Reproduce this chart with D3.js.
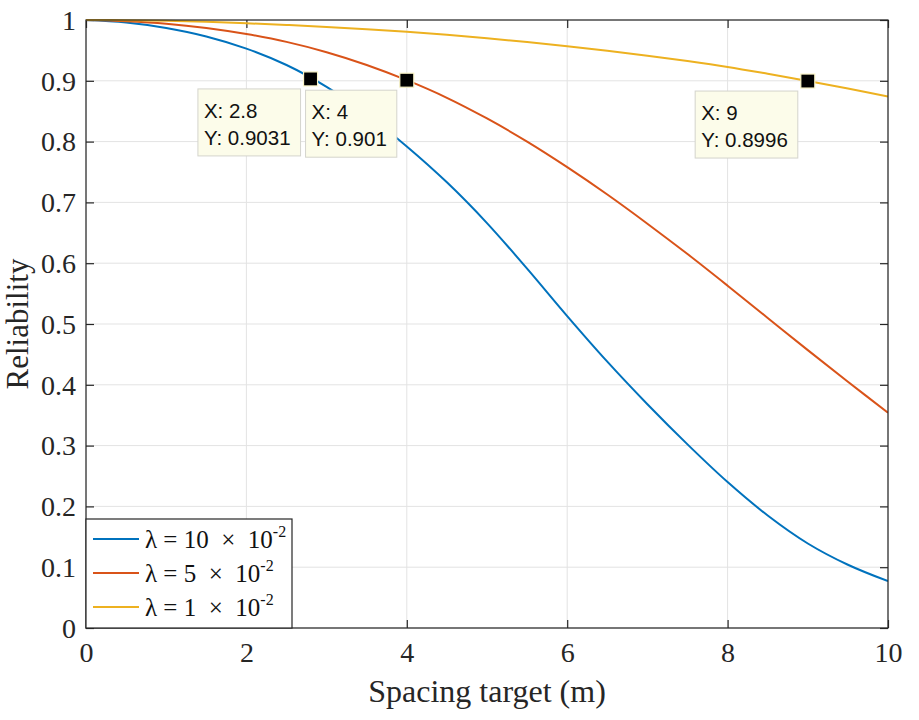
<!DOCTYPE html>
<html><head><meta charset="utf-8">
<script src="https://cdn.jsdelivr.net/npm/d3@7"></script>
<style>body{margin:0;background:#fff}</style>
</head><body>
<svg id="c" width="919" height="720"></svg>
<script>
const xs = [0,0.5,1,1.5,2,2.5,3,3.5,4,4.5,5,5.5,6,6.5,7,7.5,8,8.5,9,9.5,10];
const blueVals = [1,0.996,0.987,0.973,0.953,0.926,0.890,0.845,0.792,0.733,0.666,0.591,0.513,0.438,0.368,0.302,0.240,0.185,0.139,0.104,0.077];
const redVals = [1,0.998,0.994,0.987,0.977,0.964,0.947,0.926,0.901,0.872,0.838,0.800,0.758,0.713,0.665,0.615,0.563,0.510,0.457,0.405,0.354];
const yellowVals = [1,0.9997,0.9987,0.997,0.9946,0.9918,0.9886,0.9848,0.9805,0.9756,0.970,0.9638,0.957,0.9495,0.9413,0.9325,0.9228,0.9115,0.8996,0.8872,0.8742];
const seriesNames = ["10","5","1"];
const colors = ["#0072BD","#D95319","#EDB120"];
const tipX = [2.8, 4, 9];
const tipY = [0.9031, 0.901, 0.8996];
const xTicks = [0,2,4,6,8,10];
const yTicks = [0,0.1,0.2,0.3,0.4,0.5,0.6,0.7,0.8,0.9,1];

const L=86, R=888, T=20, B=628;
const svg = d3.select("#c");
const x = d3.scaleLinear().domain([0,10]).range([L,R]);
const y = d3.scaleLinear().domain([0,1]).range([B,T]);
const axisCol = "#262626";
const serif = "'Liberation Serif','Times New Roman',serif";
const sans = "'Liberation Sans',Arial,sans-serif";

// grid
const g = svg.append("g");
g.selectAll("line.gx").data(xTicks).join("line").attr("x1",d=>x(d)).attr("x2",d=>x(d)).attr("y1",T).attr("y2",B).attr("stroke","#e3e3e3").attr("stroke-width",1);
g.selectAll("line.gy").data(yTicks).join("line").attr("y1",d=>y(d)).attr("y2",d=>y(d)).attr("x1",L).attr("x2",R).attr("stroke","#e3e3e3").attr("stroke-width",1);

// axes with inward ticks
const fmt = d => d===0?"0":(d===1?"1":d3.format(".1f")(d));
const ax = svg.append("g").attr("transform",`translate(0,${B})`).call(d3.axisBottom(x).tickValues(xTicks).tickSizeInner(-8).tickSizeOuter(0).tickPadding(14).tickFormat(d3.format("d")));
const axT = svg.append("g").attr("transform",`translate(0,${T})`).call(d3.axisTop(x).tickValues(xTicks).tickSizeInner(-8).tickSizeOuter(0).tickFormat(""));
const ay = svg.append("g").attr("transform",`translate(${L},0)`).call(d3.axisLeft(y).tickValues(yTicks).tickSizeInner(-8).tickSizeOuter(0).tickPadding(10).tickFormat(fmt));
const ayR = svg.append("g").attr("transform",`translate(${R},0)`).call(d3.axisRight(y).tickValues(yTicks).tickSizeInner(-8).tickSizeOuter(0).tickFormat(""));
[ax,axT,ay,ayR].forEach(a=>{a.select(".domain").remove();a.selectAll("line").attr("stroke",axisCol).attr("stroke-width",1.2);});
[ax,ay].forEach(a=>a.selectAll("text").attr("font-family",serif).attr("font-size",28).attr("fill",axisCol));
ax.selectAll("text").attr("dy","0.71em");
ay.selectAll("text").attr("dy","0.33em");

// lines
const series = [blueVals, redVals, yellowVals];
const line = d3.line().x((d,i)=>x(xs[i])).y(d=>y(d)).curve(d3.curveCatmullRom.alpha(0.5));
svg.append("clipPath").attr("id","cp").append("rect").attr("x",L).attr("y",T-2).attr("width",R-L).attr("height",B-T+2);
svg.append("g").attr("clip-path","url(#cp)").selectAll("path").data(series).join("path")
  .attr("d",line).attr("fill","none").attr("stroke",(d,i)=>colors[i]).attr("stroke-width",2);

// box
svg.append("rect").attr("x",L).attr("y",T).attr("width",R-L).attr("height",B-T).attr("fill","none").attr("stroke",axisCol).attr("stroke-width",1.2);

// datatips
const tips = svg.append("g");
tipX.forEach((tx,i)=>{
  const mx = x(tx), my = y(tipY[i]);
  const grp = tips.append("g");
  const rect = grp.append("rect").attr("fill","#fcfcea").attr("stroke","#d4d4cc").attr("stroke-width",1);
  const t1 = grp.append("text").text("X: "+tx).attr("font-family",sans).attr("font-size",20.5).attr("fill","#111");
  const t2 = grp.append("text").text("Y: "+tipY[i]).attr("font-family",sans).attr("font-size",20.5).attr("fill","#111");
  const w = Math.max(t1.node().getComputedTextLength(), t2.node().getComputedTextLength()) + 16;
  const bx = mx - 10 - w, by = my + 10;
  rect.attr("x",bx).attr("y",by).attr("width",w).attr("height",67);
  t1.attr("x",bx+6).attr("y",by+29);
  t2.attr("x",bx+6).attr("y",by+56);
  tips.append("rect").attr("x",mx-7).attr("y",my-7).attr("width",14).attr("height",14).attr("fill","#000").attr("stroke","#fbf5c8").attr("stroke-width",1.2);
});

// legend
const lg = svg.append("g");
lg.append("rect").attr("x",L).attr("y",519).attr("width",206).attr("height",B-519).attr("fill","#fff").attr("stroke",axisCol).attr("stroke-width",1.2);
seriesNames.forEach((n,i)=>{
  const yy = 539 + i*34;
  lg.append("line").attr("x1",93).attr("x2",139).attr("y1",yy).attr("y2",yy).attr("stroke",colors[i]).attr("stroke-width",2);
  const t = lg.append("text").attr("x",145).attr("y",yy+9).attr("font-family",serif).attr("font-size",25).attr("fill","#111").attr("xml:space","preserve");
  t.append("tspan").text("λ = "+n+"  ×  10");
  t.append("tspan").text("-2").attr("font-size",16).attr("dy",-11);
});

// axis labels
svg.append("text").attr("x",(L+R)/2).attr("y",702).attr("text-anchor","middle").attr("font-family",serif).attr("font-size",32).attr("fill",axisCol).text("Spacing target (m)");
svg.append("text").attr("transform",`translate(28,${(T+B)/2}) rotate(-90)`).attr("text-anchor","middle").attr("font-family",serif).attr("font-size",31).attr("fill",axisCol).text("Reliability");
</script>
</body></html>
